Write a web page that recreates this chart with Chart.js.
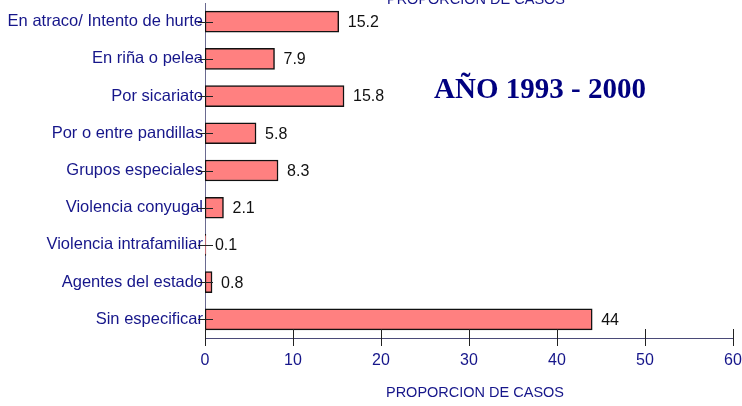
<!DOCTYPE html>
<html>
<head>
<meta charset="utf-8">
<script src="https://cdn.jsdelivr.net/npm/chart.js@4.4.0/dist/chart.umd.min.js"></script>
<style>
  html, body { margin: 0; padding: 0; background: #fff; }
  #wrap { width: 742px; height: 406px; position: relative; }
</style>
</head>
<body>
<div id="wrap"><canvas id="chart"></canvas></div>
<script>
// categorias y valores (proporcion de casos)
const categories = [
  'En atraco/ Intento de hurte',
  'En riña o pelea',
  'Por sicariato',
  'Por o entre pandillas',
  'Grupos especiales',
  'Violencia conyugal',
  'Violencia intrafamiliar',
  'Agentes del estado',
  'Sin especificar'
];
const values = [15.2, 7.9, 15.8, 5.8, 8.3, 2.1, 0.1, 0.8, 44];
const xTicks = [0, 10, 20, 30, 40, 50, 60];

const axisTitle = 'PROPORCION DE CASOS';
const periodText = 'AÑO 1993 - 2000';

const NAVY = '#16168a';
const SANS = "'Liberation Sans', Arial, sans-serif";

// ticks cruzando los ejes, etiquetas de valor y textos sueltos
const extrasPlugin = {
  id: 'extras',
  afterDatasetsDraw(chart) {
    const { ctx, chartArea, scales } = chart;
    const xs = scales.x, ys = scales.y;
    ctx.save();

    // marcas del eje x
    ctx.strokeStyle = '#222';
    ctx.lineWidth = 1;
    xTicks.forEach(v => {
      const px = Math.round(xs.getPixelForValue(v)) + 0.5;
      ctx.beginPath();
      ctx.moveTo(px, chartArea.bottom - 9);
      ctx.lineTo(px, chartArea.bottom + 8);
      ctx.stroke();
    });

    // marcas de categoria
    categories.forEach((c, i) => {
      const py = Math.round(ys.getPixelForValue(i)) + 0.5;
      ctx.beginPath();
      ctx.moveTo(chartArea.left - 7, py);
      ctx.lineTo(chartArea.left + 8, py);
      ctx.stroke();
    });

    // etiquetas de valor
    const meta = chart.getDatasetMeta(0);
    ctx.fillStyle = '#111';
    ctx.font = '16px ' + SANS;
    ctx.textAlign = 'left';
    ctx.textBaseline = 'middle';
    meta.data.forEach((bar, i) => {
      ctx.fillText(String(values[i]), bar.x + 9, bar.y + 1);
    });

    // titulos del eje (el superior queda recortado)
    ctx.fillStyle = NAVY;
    ctx.font = '14.5px ' + SANS;
    ctx.textAlign = 'center';
    ctx.textBaseline = 'alphabetic';
    ctx.fillText(axisTitle, 476, 4);
    ctx.textBaseline = 'middle';
    ctx.fillText(axisTitle, 475, 393);

    // periodo
    ctx.fillStyle = '#000080';
    ctx.textBaseline = 'alphabetic';
    ctx.font = "bold 29px 'Liberation Serif', 'Times New Roman', serif";
    ctx.fillText(periodText, 540, 98);

    ctx.restore();
  }
};

new Chart(document.getElementById('chart'), {
  type: 'bar',
  data: {
    labels: categories,
    datasets: [{
      data: values,
      backgroundColor: '#ff8080',
      borderColor: '#111',
      borderWidth: 1.5,
      borderSkipped: false,
      barThickness: 21
    }]
  },
  options: {
    indexAxis: 'y',
    responsive: true,
    maintainAspectRatio: false,
    animation: false,
    layout: { padding: 0 },
    plugins: {
      legend: { display: false },
      tooltip: { enabled: false }
    },
    scales: {
      x: {
        min: 0,
        max: 60,
        afterBuildTicks: (scale) => { scale.ticks = xTicks.map(v => ({ value: v })); },
        afterFit: (scale) => {
          scale.height = 68;
          scale.paddingLeft = 0;
          scale.paddingRight = 9;
        },
        grid: { display: false, drawTicks: false },
        border: { display: true, color: '#4a4a78', width: 1 },
        ticks: {
          color: NAVY,
          font: { family: SANS, size: 16 },
          padding: 13,
          maxRotation: 0
        },
        title: { display: false }
      },
      y: {
        afterFit: (scale) => {
          scale.width = 205;
          scale.paddingTop = 3;
          scale.paddingBottom = 0;
        },
        grid: { display: false, drawTicks: false },
        border: { display: true, color: '#6a6a90', width: 1 },
        ticks: {
          color: NAVY,
          font: { family: SANS, size: 16.5 },
          padding: 2,
          autoSkip: false
        }
      }
    }
  },
  plugins: [extrasPlugin]
});
</script>
</body>
</html>
